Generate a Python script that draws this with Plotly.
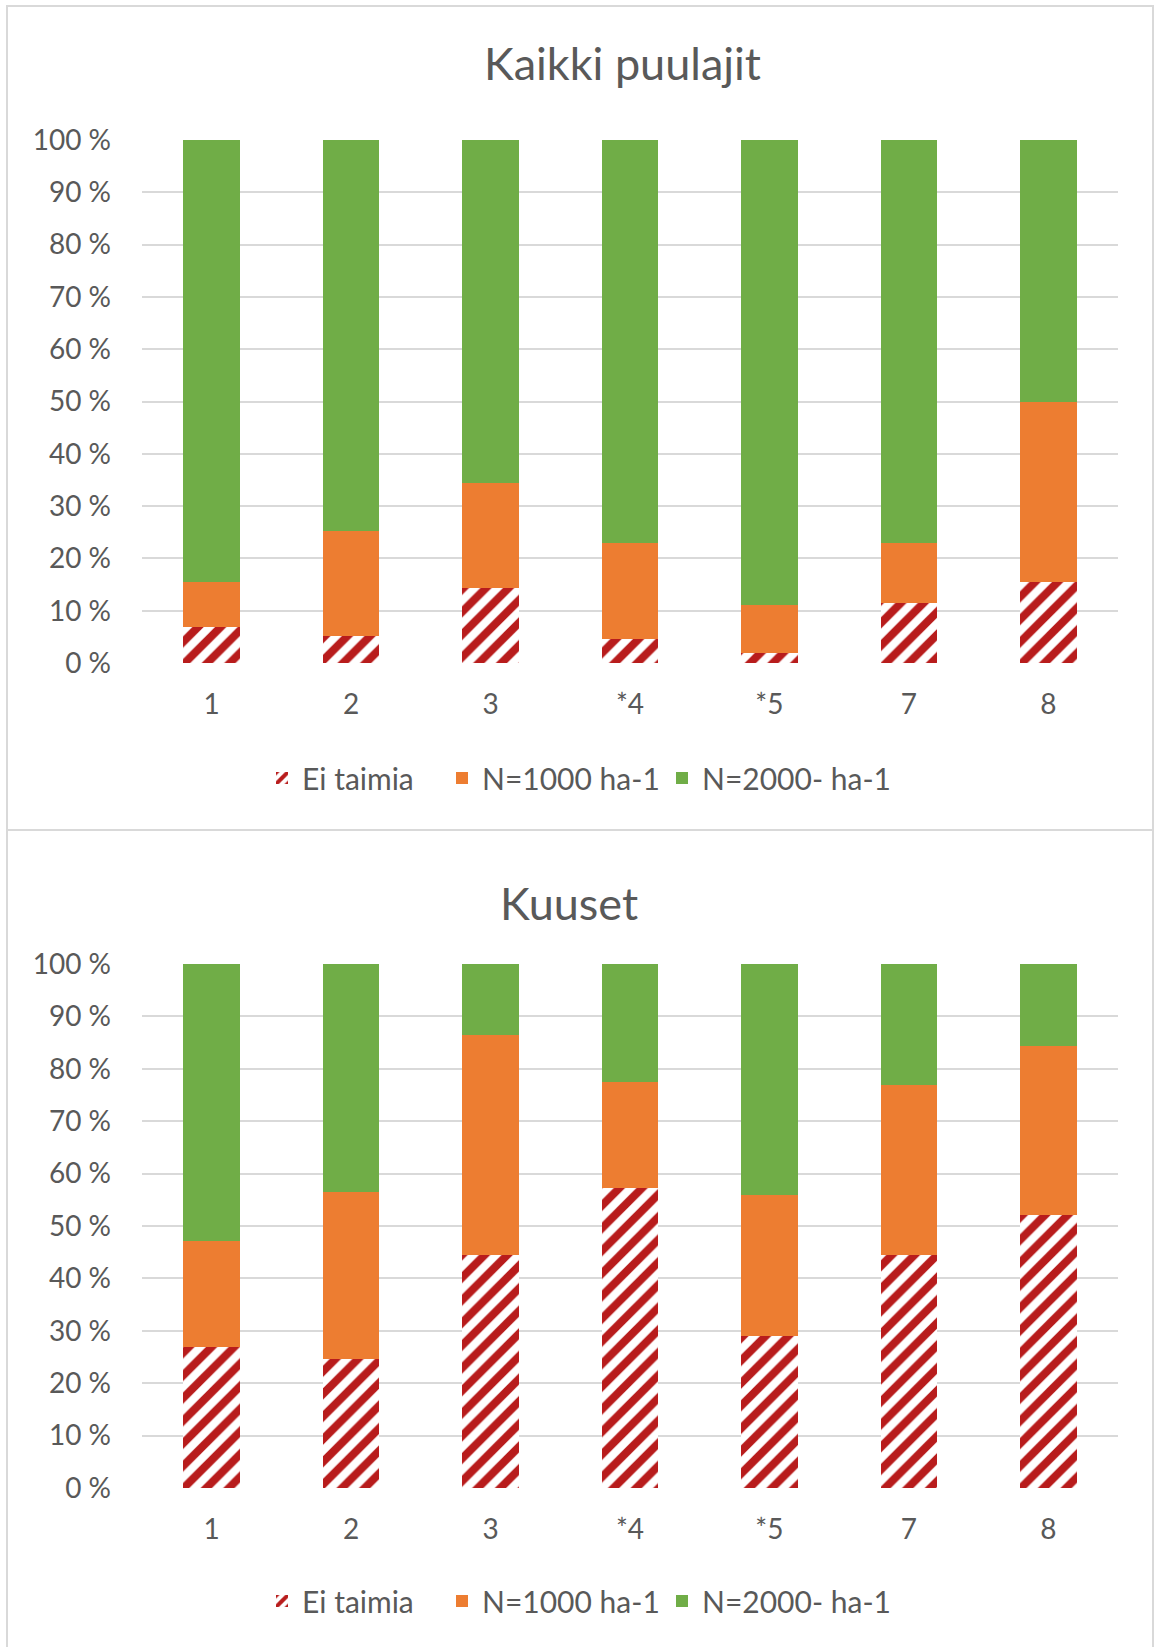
import plotly.graph_objects as go

# Plot categories (x axis)
categories = ["1", "2", "3", "*4", "*5", "7", "8"]

# Kaikki puulajit, shares in percent
all_none = [6.9, 5.2, 14.3, 4.5, 1.9, 11.4, 15.5]
all_n1000 = [8.6, 20.0, 20.2, 18.5, 9.1, 11.6, 34.5]
all_n2000 = [84.5, 74.8, 65.5, 77.0, 89.0, 77.0, 50.0]

# Kuuset, shares in percent
spruce_none = [27.0, 24.6, 44.4, 57.2, 29.0, 44.5, 52.1]
spruce_n1000 = [20.2, 31.8, 42.1, 20.2, 26.9, 32.4, 32.3]
spruce_n2000 = [52.8, 43.6, 13.5, 22.6, 44.1, 23.1, 15.6]

series_names = ["Ei taimia", "N=1000 ha-1", "N=2000- ha-1"]
chart_titles = ["Kaikki puulajit", "Kuuset"]
tick_vals = list(range(0, 101, 10))
tick_text = [f"{v} %" for v in tick_vals]

W, H = 1155, 1647
FONT = "Lato, 'Open Sans', sans-serif"
TEXT = "#595959"
GRID = "#d9d9d9"
RED = "#B81C1C"
ORANGE = "#ED7D31"
GREEN = "#70AD47"


def px_x(v):
    return v / W


def px_y(v):
    return 1 - v / H


fig = go.Figure()

panels = [
    ("x", "y", [all_none, all_n1000, all_n2000], ["legend", "legend2", "legend3"]),
    ("x2", "y2", [spruce_none, spruce_n1000, spruce_n2000], ["legend4", "legend5", "legend6"]),
]

for xa, ya, values, legends in panels:
    fig.add_trace(go.Bar(
        x=categories, y=values[0], name=series_names[0], xaxis=xa, yaxis=ya,
        legend=legends[0], showlegend=True,
        marker=dict(color=RED, line=dict(width=0),
                    pattern=dict(shape="/", fgcolor=RED, bgcolor="white",
                                 size=16, solidity=0.5, fillmode="replace")),
    ))
    fig.add_trace(go.Bar(
        x=categories, y=values[1], name=series_names[1], xaxis=xa, yaxis=ya,
        legend=legends[1], showlegend=True,
        marker=dict(color=ORANGE, line=dict(width=0)),
    ))
    fig.add_trace(go.Bar(
        x=categories, y=values[2], name=series_names[2], xaxis=xa, yaxis=ya,
        legend=legends[2], showlegend=True,
        marker=dict(color=GREEN, line=dict(width=0)),
    ))

x_dom = [px_x(142), px_x(1118)]
common_x = dict(
    domain=x_dom, showgrid=False, zeroline=False, showline=False, ticks="",
    tickfont=dict(family=FONT, size=28, color=TEXT), ticklabelstandoff=22,
    fixedrange=True, automargin=False,
)
common_y = dict(
    range=[0, 100], tickmode="array", tickvals=tick_vals, ticktext=tick_text,
    showgrid=True, gridcolor=GRID, gridwidth=1.5, zeroline=False,
    showline=False, ticks="",
    tickfont=dict(family=FONT, size=28, color=TEXT), ticklabelstandoff=30,
    fixedrange=True, automargin=False,
)

legend_base = dict(
    font=dict(family=FONT, size=30, color=TEXT), bgcolor="rgba(0,0,0,0)",
    orientation="h", xanchor="left", yanchor="middle", borderwidth=0,
)

legend_x = [262, 442, 662]
layout_legends = {}
for i, key in enumerate(["legend", "legend2", "legend3"]):
    layout_legends[key] = dict(legend_base, x=px_x(legend_x[i]), y=px_y(778))
for i, key in enumerate(["legend4", "legend5", "legend6"]):
    layout_legends[key] = dict(legend_base, x=px_x(legend_x[i]), y=px_y(1601))

# Chart frames
border = dict(color=GRID, width=2)
shapes = [
    dict(type="rect", xref="paper", yref="paper", x0=px_x(7), x1=px_x(1153),
         y0=px_y(830), y1=px_y(6), line=border, layer="below"),
    dict(type="line", xref="paper", yref="paper", x0=px_x(7), x1=px_x(7),
         y0=px_y(830), y1=-0.01, line=border, layer="below"),
    dict(type="line", xref="paper", yref="paper", x0=px_x(1153), x1=px_x(1153),
         y0=px_y(830), y1=-0.01, line=border, layer="below"),
]

annotations = [
    dict(text=chart_titles[0], x=px_x(622), y=px_y(63), xref="paper", yref="paper",
         showarrow=False, xanchor="center", yanchor="middle",
         font=dict(family=FONT, size=45, color=TEXT)),
    dict(text=chart_titles[1], x=px_x(569), y=px_y(903), xref="paper", yref="paper",
         showarrow=False, xanchor="center", yanchor="middle",
         font=dict(family=FONT, size=45, color=TEXT)),
]

fig.update_layout(
    width=W, height=H,
    margin=dict(l=0, r=0, t=0, b=0, autoexpand=False),
    showlegend=True,
    paper_bgcolor="white", plot_bgcolor="white",
    barmode="stack", bargap=0.594,
    xaxis=dict(common_x, anchor="y"),
    yaxis=dict(common_y, domain=[px_y(663), px_y(140)], anchor="x"),
    xaxis2=dict(common_x, anchor="y2"),
    yaxis2=dict(common_y, domain=[px_y(1488), px_y(964)], anchor="x2"),
    shapes=shapes, annotations=annotations,
    **layout_legends,
)

fig.write_html("out.html")
